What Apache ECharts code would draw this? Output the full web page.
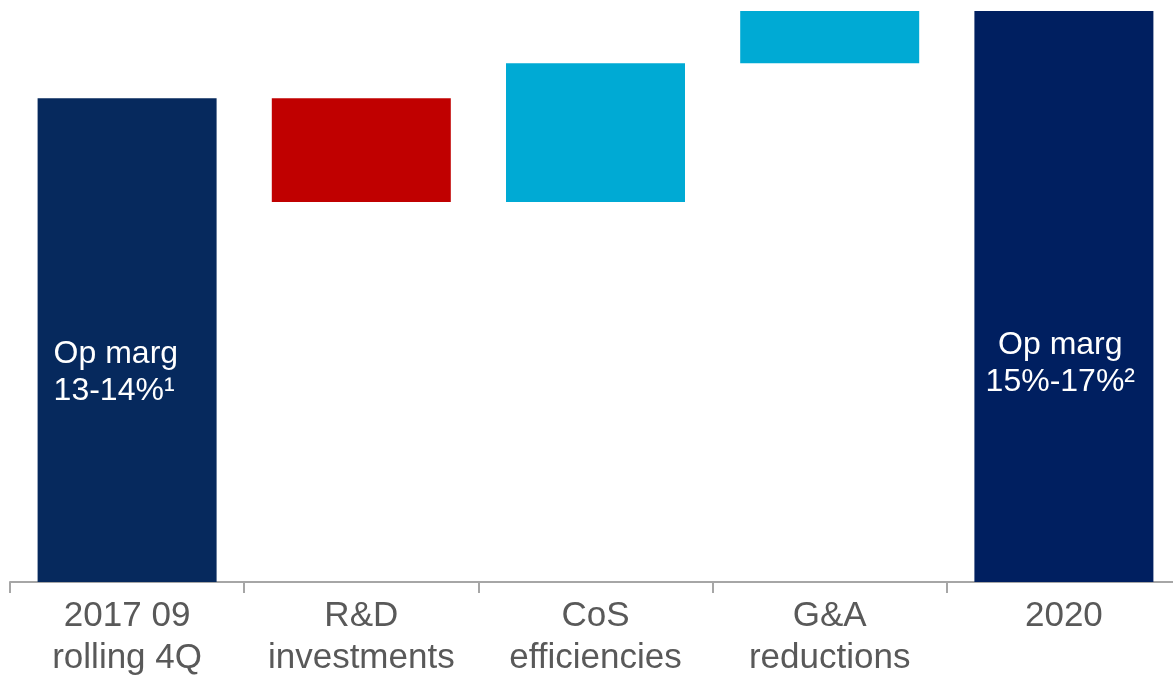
<!DOCTYPE html>
<html>
<head>
<meta charset="utf-8">
<script src="https://cdn.jsdelivr.net/npm/echarts@6/dist/echarts.min.js"></script>
<style>
  html, body { margin: 0; padding: 0; background: #fff; overflow: hidden; }
  /* the category axis runs a little past the right edge of the window */
  #chart { width: 1181px; height: 679px; }
</style>
</head>
<body>
<div id="chart"></div>
<script>
// categories and steps of the operating margin bridge
const categories = ['2017 09\nrolling 4Q', 'R&D\ninvestments', 'CoS\nefficiencies', 'G&A\nreductions', '2020'];
const steps = [13.56, -2.91, 3.89, 1.46, 16.0];      // totals at ends, deltas in between
const isTotal = [true, false, false, false, true];
const barLabels = ['Op marg\n13-14%¹', '', '', '', 'Op marg\n15%-17%²'];

const colors = {
    start: '#06295d',
    end: '#001f60',
    up: '#00aad4',
    down: '#c00000'
};

// build invisible base + visible part for the waterfall
const buildWaterfall = () => {
    const base = [];
    const visible = [];
    let level = 0;
    for (let i = 0; i < steps.length; i += 1) {
        const v = steps[i];
        if (isTotal[i]) {
            base.push(0);
            visible.push(v);
            level = v;
        } else if (v < 0) {
            base.push(level + v);
            visible.push(-v);
            level += v;
        } else {
            base.push(level);
            visible.push(v);
            level += v;
        }
    }
    return { base, visible };
};

const { base, visible } = buildWaterfall();

const barColor = (i) => {
    if (i === 0) return colors.start;
    if (i === steps.length - 1) return colors.end;
    return steps[i] < 0 ? colors.down : colors.up;
};

const labelFor = (i) => {
    if (!barLabels[i]) return { show: false };
    const first = i === 0;
    return {
        show: true,
        formatter: barLabels[i],
        color: '#ffffff',
        fontSize: 32,
        lineHeight: 37,
        fontFamily: 'Liberation Sans, Arial, sans-serif',
        align: first ? 'left' : 'center',
        verticalAlign: 'top',
        position: first ? [16, 238] : ['48%', 316]
    };
};

const chart = echarts.init(document.getElementById('chart'), null, { renderer: 'canvas' });

chart.setOption({
    animation: false,
    grid: { left: 10, right: 0, top: 0, bottom: 97 },
    xAxis: {
        type: 'category',
        data: categories,
        boundaryGap: true,
        axisLine: { show: true, lineStyle: { color: '#a6a6a6', width: 2 } },
        axisTick: { show: true, length: 11, interval: 0, lineStyle: { color: '#a6a6a6', width: 2 } },
        axisLabel: {
            interval: 0,
            margin: 13,
            color: '#595959',
            fontSize: 35,
            lineHeight: 42,
            fontFamily: 'Liberation Sans, Arial, sans-serif'
        },
        splitLine: { show: false }
    },
    yAxis: {
        type: 'value',
        min: 0,
        max: 16.31,
        show: false,
        splitLine: { show: false }
    },
    series: [
        {
            name: 'base',
            type: 'bar',
            stack: 'wf',
            barWidth: 179,
            itemStyle: { color: 'transparent' },
            emphasis: { disabled: true },
            data: base
        },
        {
            name: 'value',
            type: 'bar',
            stack: 'wf',
            barWidth: 179,
            data: visible.map((v, i) => ({
                value: v,
                itemStyle: { color: barColor(i) },
                label: labelFor(i)
            }))
        }
    ]
});
</script>
</body>
</html>
